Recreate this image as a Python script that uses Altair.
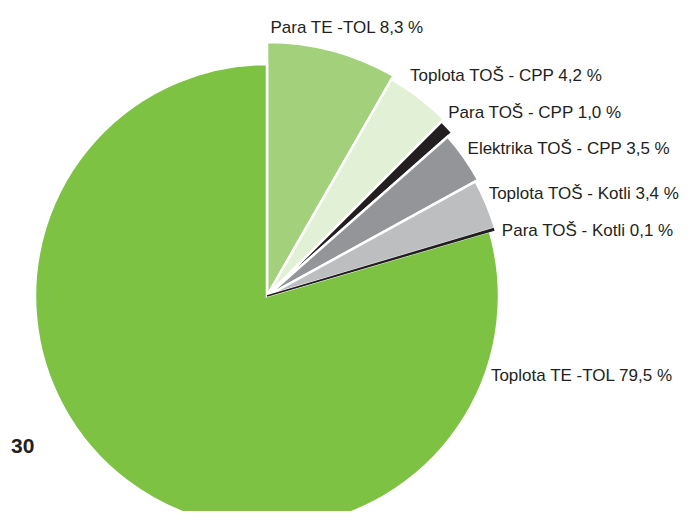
import math
import altair as alt
import pandas as pd

# ---- data ----
names = ["Para TE -TOL", "Toplota TOŠ - CPP", "Para TOŠ - CPP", "Elektrika TOŠ - CPP",
         "Toplota TOŠ - Kotli", "Para TOŠ - Kotli", "Toplota TE -TOL"]
values = [8.3, 4.2, 1.0, 3.5, 3.4, 0.1, 79.5]
labels = ["Para TE -TOL 8,3 %", "Toplota TOŠ - CPP 4,2 %", "Para TOŠ - CPP 1,0 %",
          "Elektrika TOŠ - CPP 3,5 %", "Toplota TOŠ - Kotli 3,4 %", "Para TOŠ - Kotli 0,1 %",
          "Toplota TE -TOL 79,5 %"]
page_number = ["30"]

# ---- styles ----
colors = ["#a3d17b", "#e2f0d6", "#231f20", "#939598", "#bcbec0", "#231f20", "#7dc242"]
outer_r = [254, 250, 247, 241, 238, 236, 232]
label_off = [(-61, -26), (-9, -22), (-1, -12), (-4, -3), (-9, -6), (-5, 6), (374, -120)]
CX, CY = 259, 288
LABEL_R = 250
FONT = "Liberation Sans"
TEXT_COLOR = "#231f20"

df = pd.DataFrame({"name": names, "value": values, "label": labels, "order": list(range(len(names)))})

theta_scale = alt.Scale(domain=[0, 100], range=[0, 2 * math.pi])
color_scale = alt.Scale(domain=names, range=colors)

base = (
    alt.Chart(df)
    .transform_window(cum="sum(value)", sort=[alt.SortField("order")], frame=[None, 0])
    .transform_calculate(start="datum.cum - datum.value", mid="datum.cum - datum.value / 2")
)

layers = []
for i, n in enumerate(names):
    thin = n == "Para TOŠ - Kotli"
    arc = (
        base.transform_filter(alt.datum.name == n)
        .mark_arc(
            outerRadius=outer_r[i],
            stroke="#231f20" if thin else "white",
            strokeWidth=1.6 if thin else 2.5,
        )
        .encode(
            theta=alt.Theta("start:Q", stack=None, scale=theta_scale),
            theta2=alt.Theta2("cum:Q"),
            color=alt.Color("name:N", scale=color_scale, legend=None),
            x=alt.value(CX),
            y=alt.value(CY),
        )
    )
    layers.append((thin, arc))

arcs = [a for t, a in layers if not t] + [a for t, a in layers if t]

texts = []
for i, n in enumerate(names):
    dx, dy = label_off[i]
    t = (
        base.transform_filter(alt.datum.name == n)
        .mark_text(align="left", baseline="middle", dx=dx, dy=dy, fontSize=17,
                   font=FONT, color=TEXT_COLOR)
        .encode(
            theta=alt.Theta("mid:Q", stack=None, scale=theta_scale),
            radius=alt.value(LABEL_R),
            text="label:N",
            x=alt.value(CX),
            y=alt.value(CY),
        )
    )
    texts.append(t)

page = (
    alt.Chart(pd.DataFrame({"page": page_number}))
    .mark_text(align="left", baseline="middle", fontSize=21, fontWeight="bold",
               font=FONT, color=TEXT_COLOR)
    .encode(text="page:N", x=alt.value(3), y=alt.value(439))
)

chart = (
    alt.layer(*arcs, *texts, page)
    .properties(width=677, height=503, autosize=alt.AutoSizeParams(type="none"), padding=0)
    .configure_view(stroke=None)
)

chart.save("out.html", embed_options={"renderer": "svg", "actions": False})
